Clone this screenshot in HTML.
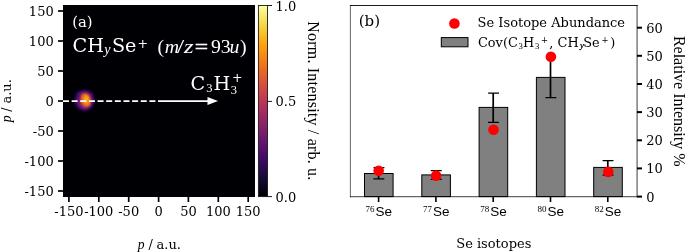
<!DOCTYPE html>
<html><head><meta charset="utf-8"><title>figure</title>
<style>
html,body{margin:0;padding:0;background:#fff;}
body{width:685px;height:252px;overflow:hidden;}
svg{display:block;}
.s{font-family:"DejaVu Serif","Liberation Serif",serif;}
.n{font-family:"DejaVu Sans","Liberation Sans",sans-serif;}
.t{font-family:"Liberation Serif","DejaVu Serif",serif;}
.a{font-family:"Liberation Sans","DejaVu Sans",sans-serif;}
</style></head><body>
<svg width="685" height="252" viewBox="0 0 685 252">
<defs>
<linearGradient id="cb" x1="0" y1="1" x2="0" y2="0"><stop offset="0.0" stop-color="#000004"/><stop offset="0.1" stop-color="#160b39"/><stop offset="0.2" stop-color="#420a68"/><stop offset="0.3" stop-color="#6a176e"/><stop offset="0.4" stop-color="#932667"/><stop offset="0.5" stop-color="#bc3754"/><stop offset="0.6" stop-color="#dd513a"/><stop offset="0.7" stop-color="#f37819"/><stop offset="0.8" stop-color="#fca50a"/><stop offset="0.9" stop-color="#f6d746"/><stop offset="1.0" stop-color="#fcffa4"/></linearGradient>
<filter id="b1" x="-50%" y="-50%" width="200%" height="200%"><feGaussianBlur stdDeviation="0.9"/></filter><filter id="b2" x="-50%" y="-50%" width="200%" height="200%"><feGaussianBlur stdDeviation="1.3"/></filter><filter id="b3" x="-50%" y="-50%" width="200%" height="200%"><feGaussianBlur stdDeviation="1.8"/></filter>
</defs>
<rect x="0" y="0" width="685" height="252" fill="#ffffff"/>
<rect x="63" y="5" width="192" height="192" fill="#000004"/>
<g><ellipse cx="84.5" cy="100.4" rx="9.8" ry="10.4" fill="#45107a" filter="url(#b3)"/><ellipse cx="79.4" cy="94.4" rx="2.6" ry="2.3" fill="#3a0d68" filter="url(#b2)"/><ellipse cx="90.6" cy="95.2" rx="2.2" ry="2.2" fill="#3a0d68" filter="url(#b2)"/><ellipse cx="80.2" cy="105.6" rx="2.4" ry="2.2" fill="#3a0d68" filter="url(#b2)"/><ellipse cx="85.2" cy="100.5" rx="6.8" ry="8.2" fill="#8c226a" filter="url(#b3)"/><ellipse cx="89.4" cy="100" rx="2.2" ry="2.6" fill="#851f6b" filter="url(#b2)"/><ellipse cx="85.5" cy="100.3" rx="4.8" ry="6.6" fill="#dc503b" filter="url(#b2)"/><ellipse cx="85.7" cy="99.6" rx="3.6" ry="5.0" fill="#f67e14" filter="url(#b1)"/><ellipse cx="87.5" cy="103.3" rx="2.6" ry="2.8" fill="#f57d15" filter="url(#b1)"/><ellipse cx="83.7" cy="96.2" rx="2.1" ry="2.3" fill="#ea6428" filter="url(#b1)"/><ellipse cx="86.2" cy="99.6" rx="2.3" ry="3.8" fill="#fcae12" filter="url(#b1)"/></g>
<line x1="63" y1="101.1" x2="155.5" y2="101.1" stroke="#fff" stroke-width="1.8" stroke-dasharray="6 2.64"/>
<line x1="158" y1="101.1" x2="209" y2="101.1" stroke="#fff" stroke-width="1.8"/>
<path d="M207.5 97.1 L218 101.1 L207.5 105.1 Z" fill="#fff"/>
<line x1="58" y1="191.0" x2="63" y2="191.0" stroke="#000" stroke-width="1.7"/><line x1="68.9" y1="197" x2="68.9" y2="202" stroke="#000" stroke-width="1.7"/><text class="s" x="53.7" y="195.9" font-size="13" text-anchor="end">-150</text><text class="s" x="68.9" y="216" font-size="13" text-anchor="middle">-150</text>
<line x1="58" y1="161.0" x2="63" y2="161.0" stroke="#000" stroke-width="1.7"/><line x1="98.8" y1="197" x2="98.8" y2="202" stroke="#000" stroke-width="1.7"/><text class="s" x="53.7" y="165.9" font-size="13" text-anchor="end">-100</text><text class="s" x="98.8" y="216" font-size="13" text-anchor="middle">-100</text>
<line x1="58" y1="131.0" x2="63" y2="131.0" stroke="#000" stroke-width="1.7"/><line x1="128.7" y1="197" x2="128.7" y2="202" stroke="#000" stroke-width="1.7"/><text class="s" x="53.7" y="135.9" font-size="13" text-anchor="end">-50</text><text class="s" x="128.7" y="216" font-size="13" text-anchor="middle">-50</text>
<line x1="58" y1="101.0" x2="63" y2="101.0" stroke="#000" stroke-width="1.7"/><line x1="158.6" y1="197" x2="158.6" y2="202" stroke="#000" stroke-width="1.7"/><text class="s" x="53.7" y="106.0" font-size="13" text-anchor="end">0</text><text class="s" x="158.6" y="216" font-size="13" text-anchor="middle">0</text>
<line x1="58" y1="71.0" x2="63" y2="71.0" stroke="#000" stroke-width="1.7"/><line x1="188.4" y1="197" x2="188.4" y2="202" stroke="#000" stroke-width="1.7"/><text class="s" x="53.7" y="76.0" font-size="13" text-anchor="end">50</text><text class="s" x="188.4" y="216" font-size="13" text-anchor="middle">50</text>
<line x1="58" y1="41.0" x2="63" y2="41.0" stroke="#000" stroke-width="1.7"/><line x1="218.3" y1="197" x2="218.3" y2="202" stroke="#000" stroke-width="1.7"/><text class="s" x="53.7" y="46.0" font-size="13" text-anchor="end">100</text><text class="s" x="218.3" y="216" font-size="13" text-anchor="middle">100</text>
<line x1="58" y1="11.0" x2="63" y2="11.0" stroke="#000" stroke-width="1.7"/><line x1="248.2" y1="197" x2="248.2" y2="202" stroke="#000" stroke-width="1.7"/><text class="s" x="53.7" y="15.9" font-size="13" text-anchor="end">150</text><text class="s" x="248.2" y="216" font-size="13" text-anchor="middle">150</text>
<text><tspan class="t" x="137.80" y="248.9" font-size="13.6" fill="#000" font-style="italic">p </tspan><tspan class="s" x="148.40" y="248.9" font-size="13" fill="#000">/ </tspan><tspan class="s" x="156.55" y="248.9" font-size="13" fill="#000">a.u.</tspan></text>
<text transform="translate(11 101.3) rotate(-90)"><tspan class="t" x="-21.05" y="0" font-size="13.6" fill="#000" font-style="italic">p </tspan><tspan class="s" x="-10.45" y="0" font-size="13" fill="#000">/ </tspan><tspan class="s" x="-2.30" y="0" font-size="13" fill="#000">a.u.</tspan></text>
<text><tspan class="s" x="72.2" y="26.5" font-size="14.8" fill="#fff">(a)</tspan></text>
<text><tspan class="s" x="72.6" y="52.2" font-size="19.2" fill="#fff">CH</tspan><tspan class="t" x="104.3" y="53.6" font-size="14" fill="#fff" font-style="italic">y</tspan><tspan class="s" x="111.9" y="52.2" font-size="19.2" fill="#fff">Se</tspan><tspan class="s" x="137.5" y="47.8" font-size="12.6" fill="#fff">+ </tspan><tspan class="t" x="157.6" y="53.0" font-size="19.8" fill="#fff">(</tspan><tspan class="t" x="164.8" y="53.0" font-size="19.8" fill="#fff" font-style="italic">m</tspan><tspan class="t" x="177.1" y="53.0" font-size="19.8" fill="#fff" textLength="7.2" lengthAdjust="spacingAndGlyphs">/</tspan><tspan class="t" x="184.1" y="53.0" font-size="19.8" fill="#fff" font-style="italic" textLength="9.6" lengthAdjust="spacingAndGlyphs">z</tspan><tspan class="t" x="194.7" y="53.0" font-size="19.8" fill="#fff" textLength="13.4" lengthAdjust="spacingAndGlyphs" stroke="#fff" stroke-width="0.35">=</tspan><tspan class="t" x="210.9" y="53.0" font-size="19.8" fill="#fff">93</tspan><tspan class="t" x="229.4" y="53.0" font-size="19.8" fill="#fff" font-style="italic">u</tspan><tspan class="t" x="239.9" y="53.0" font-size="19.8" fill="#fff">)</tspan></text>
<text><tspan class="s" x="190.6" y="89.7" font-size="19.2" fill="#fff">C</tspan><tspan class="t" x="206.2" y="91.8" font-size="12.5" fill="#fff">3</tspan><tspan class="s" x="213.4" y="89.7" font-size="19.2" fill="#fff">H</tspan><tspan class="t" x="230.8" y="94.4" font-size="12.5" fill="#fff">3</tspan><tspan class="s" x="232" y="81.8" font-size="12.5" fill="#fff">+</tspan></text>
<rect x="258.4" y="5.5" width="9.1" height="191.1" fill="url(#cb)" stroke="#1a1a1a" stroke-width="0.9"/>
<line x1="267.5" y1="196.6" x2="272" y2="196.6" stroke="#000" stroke-width="0.9"/><text class="s" x="275.5" y="201.5" font-size="13">0.0</text>
<line x1="267.5" y1="101.4" x2="272" y2="101.4" stroke="#000" stroke-width="0.9"/><text class="s" x="275.5" y="105.6" font-size="13">0.5</text>
<line x1="267.5" y1="5.5" x2="272" y2="5.5" stroke="#000" stroke-width="0.9"/><text class="s" x="275.5" y="10.5" font-size="13">1.0</text>
<text class="t" transform="translate(307.9 21.3) rotate(90)" font-size="16" textLength="159" lengthAdjust="spacing">Norm. Intensity / arb. u.</text>
<rect x="364.5" y="173.5" width="28.6" height="23.1" fill="#808080" stroke="#000" stroke-width="1"/><path d="M378.6 167.7 V178.9" stroke="#000" stroke-width="1.7" fill="none"/><path d="M373.5 167.7 h10.9 M373.4 178.9 h10.9" stroke="#000" stroke-width="1.25" fill="none"/>
<rect x="421.8" y="174.9" width="28.6" height="21.7" fill="#808080" stroke="#000" stroke-width="1"/><path d="M435.9 170.6 V179.4" stroke="#000" stroke-width="1.7" fill="none"/><path d="M430.8 170.6 h10.9 M430.8 179.4 h10.9" stroke="#000" stroke-width="1.25" fill="none"/>
<rect x="479.1" y="107.4" width="28.6" height="89.2" fill="#808080" stroke="#000" stroke-width="1"/><path d="M493.2 93.0 V122.3" stroke="#000" stroke-width="1.7" fill="none"/><path d="M488.1 93.0 h10.9 M488.0 122.3 h10.9" stroke="#000" stroke-width="1.25" fill="none"/>
<rect x="536.4" y="77.4" width="28.6" height="119.2" fill="#808080" stroke="#000" stroke-width="1"/><path d="M550.5 57.3 V97.5" stroke="#000" stroke-width="1.7" fill="none"/><path d="M546.0 57.3 h9.6 M545.4 97.5 h10.9" stroke="#000" stroke-width="1.25" fill="none"/>
<rect x="593.7" y="167.4" width="28.6" height="29.2" fill="#808080" stroke="#000" stroke-width="1"/><path d="M607.8 160.7 V175.2" stroke="#000" stroke-width="1.7" fill="none"/><path d="M602.6 160.7 h10.9 M602.6 175.2 h10.9" stroke="#000" stroke-width="1.25" fill="none"/>
<path d="M350 5.5 H637.6" stroke="#1c1c1c" stroke-width="1" fill="none"/><path d="M350 196.6 H637.6" stroke="#000" stroke-opacity="0.6" stroke-width="1.2" fill="none"/><path d="M350.4 5 V197.2" stroke="#000" stroke-opacity="0.55" stroke-width="1.1" fill="none"/><path d="M637.1 5 V197.2" stroke="#000" stroke-opacity="0.55" stroke-width="1.4" fill="none"/>
<circle cx="378.65" cy="170.75" r="5.3" fill="#ff0000"/><circle cx="436.1" cy="175.65" r="5.3" fill="#ff0000"/><circle cx="493.5" cy="129.8" r="5.3" fill="#ff0000"/><circle cx="550.9" cy="56.7" r="5.3" fill="#ff0000"/><circle cx="608.3" cy="171.9" r="5.3" fill="#ff0000"/>
<line x1="637" y1="196.6" x2="642" y2="196.6" stroke="#000" stroke-width="2"/><text class="s" x="646.2" y="201.5" font-size="13">0</text>
<line x1="637" y1="168.4" x2="642" y2="168.4" stroke="#000" stroke-width="2"/><text class="s" x="646.2" y="173.3" font-size="13">10</text>
<line x1="637" y1="140.3" x2="642" y2="140.3" stroke="#000" stroke-width="2"/><text class="s" x="646.2" y="145.2" font-size="13">20</text>
<line x1="637" y1="112.1" x2="642" y2="112.1" stroke="#000" stroke-width="2"/><text class="s" x="646.2" y="117.0" font-size="13">30</text>
<line x1="637" y1="84.0" x2="642" y2="84.0" stroke="#000" stroke-width="2"/><text class="s" x="646.2" y="88.9" font-size="13">40</text>
<line x1="637" y1="55.8" x2="642" y2="55.8" stroke="#000" stroke-width="2"/><text class="s" x="646.2" y="60.7" font-size="13">50</text>
<line x1="637" y1="27.7" x2="642" y2="27.7" stroke="#000" stroke-width="2"/><text class="s" x="646.2" y="32.6" font-size="13">60</text>
<line x1="378.6" y1="197" x2="378.6" y2="202" stroke="#000" stroke-width="1.6"/><text><tspan class="t" x="365.6" y="211.7" font-size="9">76</tspan><tspan class="a" x="375.6" y="216.2" font-size="13.5">Se</tspan></text>
<line x1="435.9" y1="197" x2="435.9" y2="202" stroke="#000" stroke-width="1.6"/><text><tspan class="t" x="422.9" y="211.7" font-size="9">77</tspan><tspan class="a" x="432.9" y="216.2" font-size="13.5">Se</tspan></text>
<line x1="493.2" y1="197" x2="493.2" y2="202" stroke="#000" stroke-width="1.6"/><text><tspan class="t" x="480.2" y="211.7" font-size="9">78</tspan><tspan class="a" x="490.2" y="216.2" font-size="13.5">Se</tspan></text>
<line x1="550.5" y1="197" x2="550.5" y2="202" stroke="#000" stroke-width="1.6"/><text><tspan class="t" x="537.5" y="211.7" font-size="9">80</tspan><tspan class="a" x="547.5" y="216.2" font-size="13.5">Se</tspan></text>
<line x1="607.8" y1="197" x2="607.8" y2="202" stroke="#000" stroke-width="1.6"/><text><tspan class="t" x="594.8" y="211.7" font-size="9">82</tspan><tspan class="a" x="604.8" y="216.2" font-size="13.5">Se</tspan></text>
<text class="s" x="493.8" y="248" font-size="13" text-anchor="middle">Se isotopes</text>
<text class="s" x="358.71" y="26.3" font-size="15" fill="#000">(b)</text>
<circle cx="454.4" cy="23.5" r="5.3" fill="#ff0000"/>
<rect x="441.3" y="37.6" width="26.7" height="9.2" fill="#808080" stroke="#000" stroke-width="1"/>
<text class="s" x="477.61" y="27.3" font-size="13" fill="#000">Se Isotope Abundance</text><text><tspan class="s" x="477.98" y="46.6" font-size="12.9" fill="#000">Cov(C</tspan><tspan class="t" x="518.58" y="48.5" font-size="8.7" fill="#000">3</tspan><tspan class="s" x="522.89" y="46.6" font-size="12.9" fill="#000">H</tspan><tspan class="t" x="534.88" y="48.5" font-size="8.7" fill="#000">3</tspan><tspan class="s" x="540.91" y="43.0" font-size="8.4" fill="#000">+</tspan><tspan class="s" x="549.33" y="46.6" font-size="12.9" fill="#000">, </tspan><tspan class="s" x="557.53" y="46.6" font-size="12.9" fill="#000">CH</tspan><tspan class="t" x="579.93" y="47.7" font-size="8.8" fill="#000" font-style="italic" stroke="#000" stroke-width="0.25">y</tspan><tspan class="s" x="583.22" y="46.6" font-size="12.9" fill="#000">Se</tspan><tspan class="s" x="601.51" y="43.0" font-size="8.4" fill="#000">+</tspan><tspan class="s" x="610.29" y="46.6" font-size="12.9" fill="#000">)</tspan></text>
<text class="t" transform="translate(674 35.9) rotate(90)" font-size="16">Relative Intensity %</text>
</svg>
</body></html>
